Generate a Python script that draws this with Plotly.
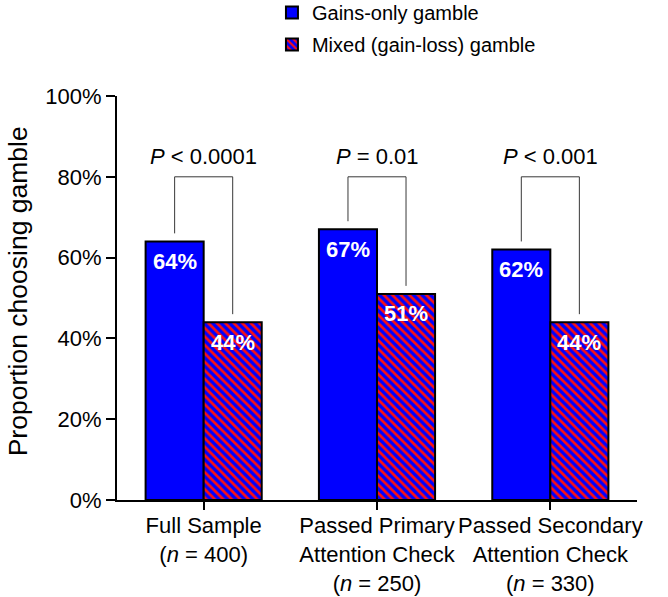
import plotly.graph_objects as go

categories = ["Full Sample<br>(<i>n</i> = 400)",
              "Passed Primary<br>Attention Check<br>(<i>n</i> = 250)",
              "Passed Secondary<br>Attention Check<br>(<i>n</i> = 330)"]
gains_only = [64, 67, 62]
mixed = [44, 51, 44]
p_labels = ["<i>P</i> < 0.0001", "<i>P</i> = 0.01", "<i>P</i> < 0.001"]
y_ticks = [0, 20, 40, 60, 80, 100]
y_tick_labels = [f"{v}%" for v in y_ticks]
bracket_top = 80
p_label_y = 85

FONT = "Liberation Sans, Arial, sans-serif"
BARGAP = 0.33
xpos = list(range(len(categories)))
bar_w = (1 - BARGAP) / 2

fig = go.Figure()
fig.add_trace(go.Bar(
    x=xpos, y=gains_only, name="Gains-only gamble", legendgroup="g1",
    marker=dict(color="#0000FF", line=dict(color="black", width=2)),
))
fig.add_trace(go.Bar(
    x=xpos, y=mixed, name="Mixed (gain-loss) gamble", legendgroup="g2",
    marker=dict(color="#0000FF", line=dict(color="black", width=2),
                pattern=dict(shape="\\", bgcolor="#0000FF", fgcolor="#FF1010",
                             size=6, solidity=0.45, fillmode="replace")),
))

for i in xpos:
    xl = i - bar_w / 2
    xr = i + bar_w / 2
    fig.add_trace(go.Scatter(
        x=[xl, xl, xr, xr],
        y=[gains_only[i] + 2, bracket_top, bracket_top, mixed[i] + 2],
        mode="lines", line=dict(color="#383838", width=1),
        showlegend=False, hoverinfo="skip",
    ))
    fig.add_annotation(x=i, y=p_label_y, text=p_labels[i], showarrow=False,
                       font=dict(size=22, family=FONT, color="black"),
                       xanchor="center", yanchor="middle")
    for xx, v in ((xl, gains_only[i]), (xr, mixed[i])):
        fig.add_annotation(x=xx, y=v, text=f"<b>{v}%</b>", showarrow=False,
                           font=dict(size=22, family=FONT, color="white"),
                           xanchor="center", yanchor="middle", yshift=-20)

fig.add_annotation(xref="paper", yref="paper", x=-0.19, y=0.517,
                   text="Proportion choosing gamble", textangle=-90,
                   showarrow=False, xanchor="center", yanchor="middle",
                   font=dict(size=26.5, family=FONT, color="black"))

fig.update_layout(
    width=668, height=597,
    margin=dict(l=117, r=31, t=96, b=97, autoexpand=False),
    plot_bgcolor="white", paper_bgcolor="white",
    barmode="group", bargap=BARGAP, bargroupgap=0,
    font=dict(family=FONT, size=22, color="black"),
    legend=dict(x=0.298, y=1.255, xanchor="left", yanchor="top",
                font=dict(size=20, family=FONT), bgcolor="rgba(0,0,0,0)",
                tracegroupgap=3, itemwidth=30),
    showlegend=True,
)
fig.update_xaxes(
    range=[-0.5, 2.5], tickvals=xpos, ticktext=categories,
    showline=True, linecolor="black", linewidth=2,
    ticks="outside", ticklen=8, tickwidth=2, tickcolor="black",
    showgrid=False, zeroline=False, ticklabelstandoff=-3,
    tickfont=dict(size=22, family=FONT),
)
fig.update_yaxes(
    range=[0, 100], tickvals=y_ticks, ticktext=y_tick_labels,
    showline=True, linecolor="black", linewidth=2,
    ticks="outside", ticklen=9, tickwidth=2, tickcolor="black",
    showgrid=False, zeroline=False,
    tickfont=dict(size=22, family=FONT),
)

# remove the default 8px page margin so the figure fills the window exactly
fig.write_html("out.html",
               config={"displayModeBar": False},
               post_script="document.body.style.margin='0';document.body.style.overflow='hidden';")
